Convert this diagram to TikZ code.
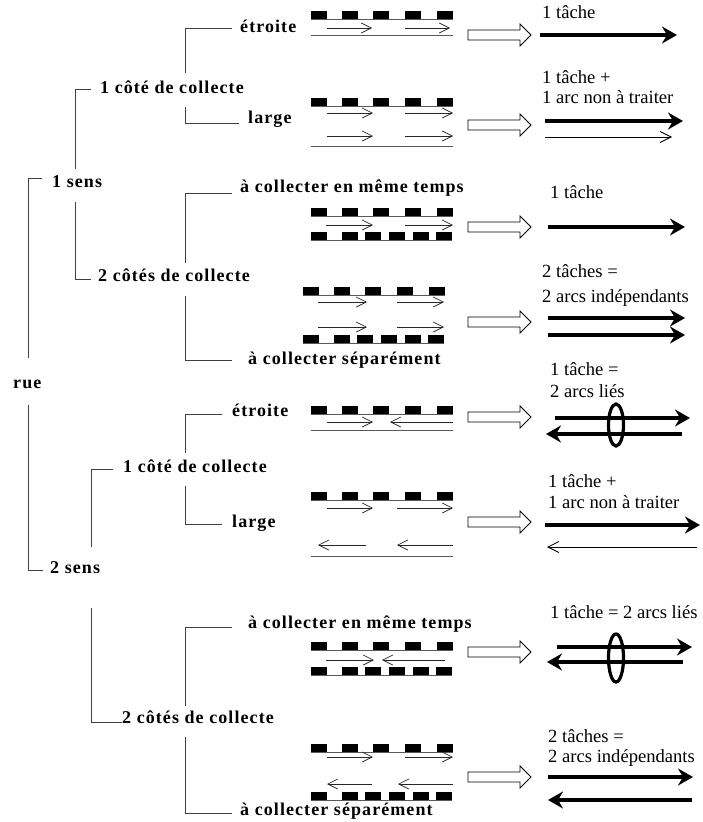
\documentclass[tikz,border=0pt]{standalone}
\usepackage{fontspec}
\setmainfont{Liberation Serif}
\newfontfamily\lblfont[LetterSpace=6]{Liberation Serif}
\usetikzlibrary{arrows.meta}
\tikzset{
 lbl/.style={anchor=base west, inner sep=0pt, font=\lblfont\bfseries\fontsize{18}{20}\selectfont},
 res/.style={anchor=base west, inner sep=0pt, font=\fontsize{18.6}{20}\selectfont},
 tree/.style={draw=black!75, line width=0.8pt},
 edgeline/.style={draw=black!65, line width=0.8pt},
 sarr/.style={draw=black!85, line width=0.7pt, -{Straight Barb[length=10pt,width=10pt]}},
 bigarr/.style={line width=3.3pt, -{Stealth[length=15pt,width=17pt,inset=5pt]}},
 thinarr/.style={line width=0.8pt, -{Straight Barb[length=11pt,width=11pt]}},
 hollow/.style={line width=0.8pt, fill=white, draw=black},
 linkring/.style={line width=3.2pt},
}
\newcommand\TopBlocks[2]{%
  \foreach \o in {0,31,62,94,126}{\fill (#1+\o,#2-1) rectangle (#1+\o+16,#2+7);}
  \draw[edgeline] (#1,#2+7) -- (#1+142,#2+7);}
\newcommand\BotBlocks[2]{%
  \foreach \o in {0,31,54,78,102,125}{\fill (#1+\o,#2) rectangle (#1+\o+16,#2+8);}
  \draw[edgeline] (#1,#2+8) -- (#1+141,#2+8);}
\newcommand\HollowArrow[1]{%
  \draw[hollow] (468,#1-5) -- (520,#1-5) -- (520,#1-11) -- (531,#1) -- (520,#1+11) -- (520,#1+5) -- (468,#1+5) -- cycle;}
\begin{document}
\begin{tikzpicture}[x=1pt,y=-1pt]
\useasboundingbox (0,0) rectangle (702,822);
% ---------- tree labels ----------
\node[lbl] (rue) at (13,388) {rue};
\node[lbl] (s1) at (52,187) {1 sens};
\node[lbl] (c1a) at (100,93) {1 côté de collecte};
\node[lbl] (e1a) at (240,32) {étroite};
\node[lbl] (l1a) at (248,123) {large};
\node[lbl] (c2a) at (98,281) {2 côtés de collecte};
\node[lbl] (ma) at (240,192) {à collecter en même temps};
\node[lbl] (sa) at (248,364) {à collecter séparément};
\node[lbl] (s2) at (50,573) {2 sens};
\node[lbl] (c1b) at (123,472) {1 côté de collecte};
\node[lbl] (e1b) at (232,416) {étroite};
\node[lbl] (l1b) at (232,527) {large};
\node[lbl] (c2b) at (122,723) {2 côtés de collecte};
\node[lbl] (mb) at (248,628) {à collecter en même temps};
\node[lbl] (sb) at (240,815) {à collecter séparément};
% ---------- tree connectors ----------
\draw[tree] ([shift={(15,-30)}]rue.base west) |- ([shift={(-10,-9)}]s1.base west);
\draw[tree] ([shift={(23,-18)}]s1.base west) |- ([shift={(-9,-4)}]c1a.base west);
\draw[tree] ([shift={(85,-20)}]c1a.base west) |- ([shift={(-8,-4)}]e1a.base west);
\draw[tree] ([shift={(85,14)}]c1a.base west) |- ([shift={(-9,0)}]l1a.base west);
\draw[tree] ([shift={(23,15)}]s1.base west) |- ([shift={(-7,-2)}]c2a.base west);
\draw[tree] ([shift={(87,-18)}]c2a.base west) |- ([shift={(-8,1)}]ma.base west);
\draw[tree] ([shift={(87,15)}]c2a.base west) |- ([shift={(-16,-4)}]sa.base west);
\draw[tree] ([shift={(15,17)}]rue.base west) |- ([shift={(-7,-3)}]s2.base west);
\draw[tree] ([shift={(41,-26)}]s2.base west) |- ([shift={(-10,-3)}]c1b.base west);
\draw[tree] ([shift={(62,-19)}]c1b.base west) |- ([shift={(-10,-2)}]e1b.base west);
\draw[tree] ([shift={(62,14)}]c1b.base west) |- ([shift={(-10,-3)}]l1b.base west);
\draw[tree] ([shift={(41,35)}]s2.base west) |- ([shift={(0,-1)}]c2b.base west);
\draw[tree] ([shift={(63,-17)}]c2b.base west) |- ([shift={(-16,-1)}]mb.base west);
\draw[tree] ([shift={(63,14)}]c2b.base west) |- ([shift={(-8,-2)}]sb.base west);
% ---------- street sketches ----------
% row 1
\TopBlocks{311}{12}
\draw[sarr] (327,28) -- (372,28);
\draw[sarr] (405,28) -- (450,28);
\draw[edgeline] (311,35) -- (453,35);
% row 2
\TopBlocks{311}{99}
\draw[sarr] (327,113) -- (373,113);
\draw[sarr] (405,113) -- (453,113);
\draw[sarr] (327,136) -- (373,136);
\draw[sarr] (405,136) -- (453,136);
\draw[edgeline] (311,146) -- (453,146);
% row 3
\TopBlocks{311}{209}
\draw[sarr] (326,225) -- (373,225);
\draw[sarr] (405,225) -- (453,225);
\BotBlocks{311}{232}
% row 4
\TopBlocks{303}{288}
\draw[sarr] (318,302) -- (367,302);
\draw[sarr] (397,302) -- (444,302);
\draw[sarr] (318,327) -- (367,327);
\draw[sarr] (397,327) -- (444,327);
\BotBlocks{303}{335}
% row 5
\TopBlocks{311}{407}
\draw[sarr] (327,422) -- (373,422);
\draw[sarr] (453,422) -- (390,422);
\draw[edgeline] (311,430) -- (453,430);
% row 6
\TopBlocks{311}{493}
\draw[sarr] (327,508) -- (373,508);
\draw[sarr] (397,508) -- (453,508);
\draw[sarr] (366,545) -- (318,545);
\draw[sarr] (453,545) -- (397,545);
\draw[edgeline] (311,556) -- (453,556);
% row 7
\TopBlocks{311}{643}
\draw[sarr] (326,660) -- (374,660);
\draw[sarr] (445,660) -- (382,660);
\BotBlocks{311}{667}
% row 8
\TopBlocks{311}{745}
\draw[sarr] (327,757) -- (373,757);
\draw[sarr] (405,757) -- (453,757);
\draw[sarr] (372,784) -- (327,784);
\draw[sarr] (453,784) -- (398,784);
\BotBlocks{311}{792}
% ---------- hollow arrows ----------
\HollowArrow{35}
\HollowArrow{125}
\HollowArrow{227}
\HollowArrow{322}
\HollowArrow{417}
\HollowArrow{522}
\HollowArrow{652}
\HollowArrow{777}
% ---------- results ----------
\draw[bigarr] (540,35) -- (677,35);
\draw[bigarr] (545,121) -- (683,121);
\draw[thinarr] (545,137) -- (672,137);
\draw[bigarr] (548,227) -- (685,227);
\draw[bigarr] (548,318) -- (685,318);
\draw[bigarr] (548,335) -- (685,335);
\draw[bigarr] (555,418) -- (690,418);
\draw[bigarr] (682,434) -- (546,434);
\draw[linkring] (616,425) ellipse [x radius=7.5, y radius=21];
\draw[bigarr] (545,525) -- (700,525);
\draw[thinarr] (697,547) -- (547,547);
\draw[bigarr] (557,647) -- (692,647);
\draw[bigarr] (683,662) -- (547,662);
\draw[linkring] (616,658) ellipse [x radius=7.5, y radius=24];
\draw[bigarr] (548,777) -- (693,777);
\draw[bigarr] (692,800) -- (548,800);
% ---------- result texts ----------
\node[res] (t1) at (542,18) {1 tâche};
\node[res] (t2a) at (542,83) {1 tâche +};
\node[res] (t2b) at (542,103) {1 arc non à traiter};
\node[res] (t3) at (550,198) {1 tâche};
\node[res] (t4a) at (542,277) {2 tâches =};
\node[res] (t4b) at (542,302) {2 arcs indépendants};
\node[res] (t5a) at (550,375) {1 tâche =};
\node[res] (t5b) at (550,397) {2 arcs liés};
\node[res] (t6a) at (548,487) {1 tâche +};
\node[res] (t6b) at (548,508) {1 arc non à traiter};
\node[res] (t7) at (550,618) {1 tâche = 2 arcs liés};
\node[res] (t8a) at (548,742) {2 tâches =};
\node[res] (t8b) at (548,762) {2 arcs indépendants};
\end{tikzpicture}
\end{document}
